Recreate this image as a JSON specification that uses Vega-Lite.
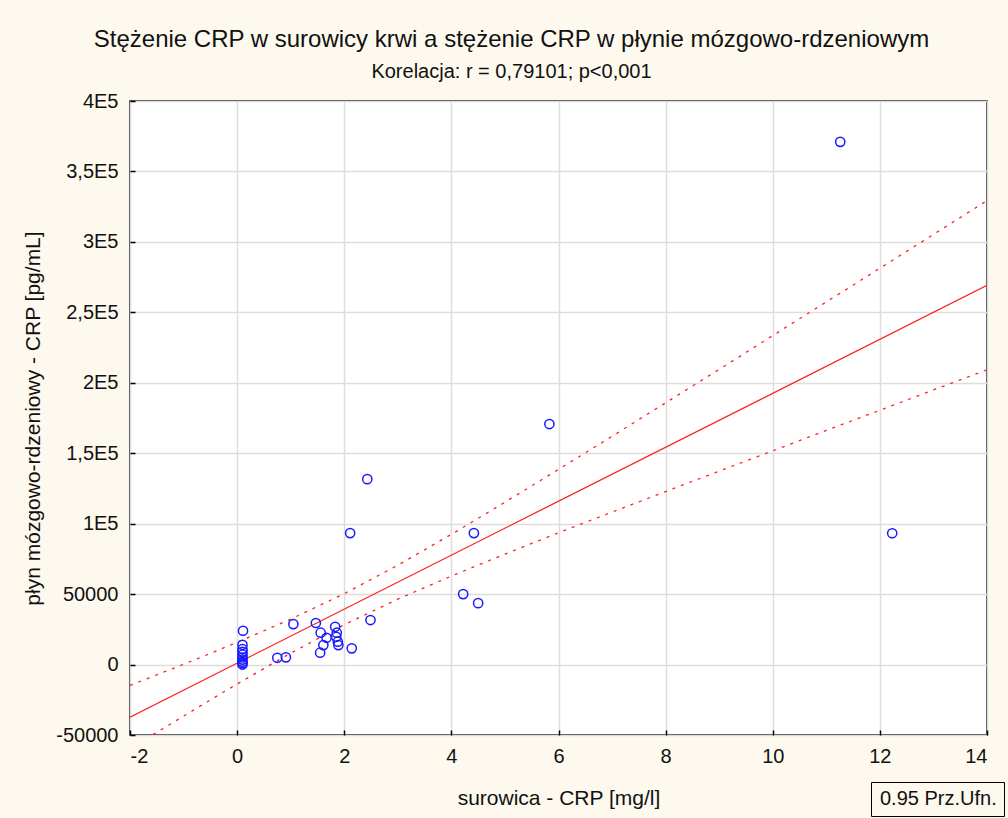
{
  "$schema": "https://vega.github.io/schema/vega-lite/v6.json",
  "autosize": {"type": "none"},
  "width": 857,
  "height": 634,
  "padding": {"left": 130, "top": 101, "right": 21, "bottom": 83},
  "background": "#fdf9ee",
  "title": {
    "text": "Stężenie CRP w surowicy krwi a stężenie CRP w płynie mózgowo-rdzeniowym",
    "subtitle": "Korelacja: r = 0,79101; p<0,001",
    "anchor": "middle",
    "frame": "group",
    "dx": -47,
    "offset": 9,
    "font": "Liberation Sans",
    "fontSize": 24,
    "fontWeight": "normal",
    "color": "#111111",
    "subtitleFont": "Liberation Sans",
    "subtitleFontSize": 20,
    "subtitleColor": "#111111",
    "subtitlePadding": 10
  },
  "config": {
    "view": {"fill": "white", "stroke": "black", "strokeWidth": 1.5},
    "axis": {
      "labelFont": "Liberation Sans",
      "labelFontSize": 20,
      "labelColor": "#111111",
      "titleFont": "Liberation Sans",
      "titleFontSize": 21,
      "titleFontWeight": "normal",
      "titleColor": "#111111",
      "gridColor": "#dddddd",
      "gridWidth": 1.5,
      "domain": false,
      "tickColor": "black",
      "tickWidth": 1.5,
      "tickSize": -5
    }
  },
  "datasets": {
    "points": [
      {"x": 0.11, "y": 24000},
      {"x": 0.1, "y": 14000},
      {"x": 0.1, "y": 11000},
      {"x": 0.1, "y": 9000},
      {"x": 0.1, "y": 7000},
      {"x": 0.1, "y": 5000},
      {"x": 0.1, "y": 3500},
      {"x": 0.1, "y": 2000},
      {"x": 0.1, "y": 1000},
      {"x": 0.1, "y": 0},
      {"x": 0.75, "y": 4800},
      {"x": 0.91, "y": 5100},
      {"x": 1.05, "y": 28700},
      {"x": 1.47, "y": 29500},
      {"x": 1.56, "y": 22600},
      {"x": 1.67, "y": 19000},
      {"x": 1.61, "y": 13800},
      {"x": 1.55, "y": 8400},
      {"x": 1.83, "y": 26800},
      {"x": 1.86, "y": 22600},
      {"x": 1.85, "y": 19700},
      {"x": 1.88, "y": 16200},
      {"x": 1.89, "y": 13800},
      {"x": 2.14, "y": 11500},
      {"x": 2.49, "y": 31600},
      {"x": 2.11, "y": 93300},
      {"x": 2.43, "y": 131600},
      {"x": 4.42, "y": 93300},
      {"x": 4.22, "y": 50000},
      {"x": 4.5, "y": 43600},
      {"x": 5.83, "y": 170700},
      {"x": 11.26, "y": 371000},
      {"x": 12.23, "y": 93200}
    ],
    "fit": [
      {"x": -2, "y": -37300},
      {"x": 14, "y": 269200}
    ],
    "bands": [
      {"x": -2, "y": -14800, "side": "upper", "band": "0.95 Prz.Ufn."},
      {"x": -1.5, "y": -7300, "side": "upper", "band": "0.95 Prz.Ufn."},
      {"x": -1, "y": 200, "side": "upper", "band": "0.95 Prz.Ufn."},
      {"x": -0.5, "y": 7900, "side": "upper", "band": "0.95 Prz.Ufn."},
      {"x": 0, "y": 15800, "side": "upper", "band": "0.95 Prz.Ufn."},
      {"x": 1, "y": 32200, "side": "upper", "band": "0.95 Prz.Ufn."},
      {"x": 2, "y": 50300, "side": "upper", "band": "0.95 Prz.Ufn."},
      {"x": 3, "y": 70500, "side": "upper", "band": "0.95 Prz.Ufn."},
      {"x": 4, "y": 92400, "side": "upper", "band": "0.95 Prz.Ufn."},
      {"x": 5, "y": 115200, "side": "upper", "band": "0.95 Prz.Ufn."},
      {"x": 6, "y": 138500, "side": "upper", "band": "0.95 Prz.Ufn."},
      {"x": 7, "y": 162000, "side": "upper", "band": "0.95 Prz.Ufn."},
      {"x": 8, "y": 185800, "side": "upper", "band": "0.95 Prz.Ufn."},
      {"x": 9, "y": 209500, "side": "upper", "band": "0.95 Prz.Ufn."},
      {"x": 10, "y": 233500, "side": "upper", "band": "0.95 Prz.Ufn."},
      {"x": 11, "y": 257400, "side": "upper", "band": "0.95 Prz.Ufn."},
      {"x": 12, "y": 281300, "side": "upper", "band": "0.95 Prz.Ufn."},
      {"x": 13, "y": 305300, "side": "upper", "band": "0.95 Prz.Ufn."},
      {"x": 14, "y": 329300, "side": "upper", "band": "0.95 Prz.Ufn."},
      {"x": -2, "y": -59800, "side": "lower", "band": "0.95 Prz.Ufn."},
      {"x": -1.5, "y": -48100, "side": "lower", "band": "0.95 Prz.Ufn."},
      {"x": -1, "y": -36600, "side": "lower", "band": "0.95 Prz.Ufn."},
      {"x": -0.5, "y": -25100, "side": "lower", "band": "0.95 Prz.Ufn."},
      {"x": 0, "y": -13800, "side": "lower", "band": "0.95 Prz.Ufn."},
      {"x": 1, "y": 8100, "side": "lower", "band": "0.95 Prz.Ufn."},
      {"x": 2, "y": 28300, "side": "lower", "band": "0.95 Prz.Ufn."},
      {"x": 3, "y": 46400, "side": "lower", "band": "0.95 Prz.Ufn."},
      {"x": 4, "y": 62800, "side": "lower", "band": "0.95 Prz.Ufn."},
      {"x": 5, "y": 78400, "side": "lower", "band": "0.95 Prz.Ufn."},
      {"x": 6, "y": 93500, "side": "lower", "band": "0.95 Prz.Ufn."},
      {"x": 7, "y": 108200, "side": "lower", "band": "0.95 Prz.Ufn."},
      {"x": 8, "y": 122800, "side": "lower", "band": "0.95 Prz.Ufn."},
      {"x": 9, "y": 137300, "side": "lower", "band": "0.95 Prz.Ufn."},
      {"x": 10, "y": 151700, "side": "lower", "band": "0.95 Prz.Ufn."},
      {"x": 11, "y": 166200, "side": "lower", "band": "0.95 Prz.Ufn."},
      {"x": 12, "y": 180500, "side": "lower", "band": "0.95 Prz.Ufn."},
      {"x": 13, "y": 194900, "side": "lower", "band": "0.95 Prz.Ufn."},
      {"x": 14, "y": 209200, "side": "lower", "band": "0.95 Prz.Ufn."}
    ]
  },
  "layer": [
    {
      "data": {"name": "bands"},
      "mark": {"type": "line", "color": "#ff2020", "strokeWidth": 1.3, "clip": true},
      "encoding": {
        "x": {
          "field": "x", "type": "quantitative",
          "scale": {"domain": [-2, 14], "nice": false, "zero": false},
          "axis": {
            "values": [-2, 0, 2, 4, 6, 8, 10, 12, 14],
            "labelExpr": "toString(datum.value)",
            "title": "surowica - CRP [mg/l]",
            "labelPadding": 16,
            "titlePadding": 21
          }
        },
        "y": {
          "field": "y", "type": "quantitative",
          "scale": {"domain": [-50000, 400000], "nice": false, "zero": false},
          "axis": {
            "values": [-50000, 0, 50000, 100000, 150000, 200000, 250000, 300000, 350000, 400000],
            "labelExpr": "datum.value >= 100000 ? replace(toString(datum.value / 100000), '.', ',') + 'E5' : toString(datum.value)",
            "title": "płyn mózgowo-rdzeniowy - CRP [pg/mL]",
            "labelPadding": 17,
            "titlePadding": 12
          }
        },
        "detail": {"field": "side"},
        "strokeDash": {
          "field": "band", "type": "nominal",
          "scale": {"range": [[3, 6]]},
          "legend": {
            "title": null,
            "orient": "none",
            "legendX": 741,
            "legendY": 681,
            "strokeColor": "black",
            "padding": 7,
            "labelFont": "Liberation Sans",
            "labelFontSize": 20,
            "labelColor": "#111111",
            "labelOffset": -18,
            "symbolSize": 0,
            "symbolOpacity": 0,
            "symbolStrokeWidth": 0
          }
        }
      }
    },
    {
      "data": {"name": "fit"},
      "mark": {"type": "line", "color": "#ff2020", "strokeWidth": 1.3, "clip": true},
      "encoding": {
        "x": {"field": "x", "type": "quantitative"},
        "y": {"field": "y", "type": "quantitative"}
      }
    },
    {
      "data": {"name": "points"},
      "mark": {"type": "point", "shape": "circle", "filled": false, "color": "#1a1aff", "size": 85, "strokeWidth": 1.5, "opacity": 1},
      "encoding": {
        "x": {"field": "x", "type": "quantitative"},
        "y": {"field": "y", "type": "quantitative"}
      }
    }
  ]
}
